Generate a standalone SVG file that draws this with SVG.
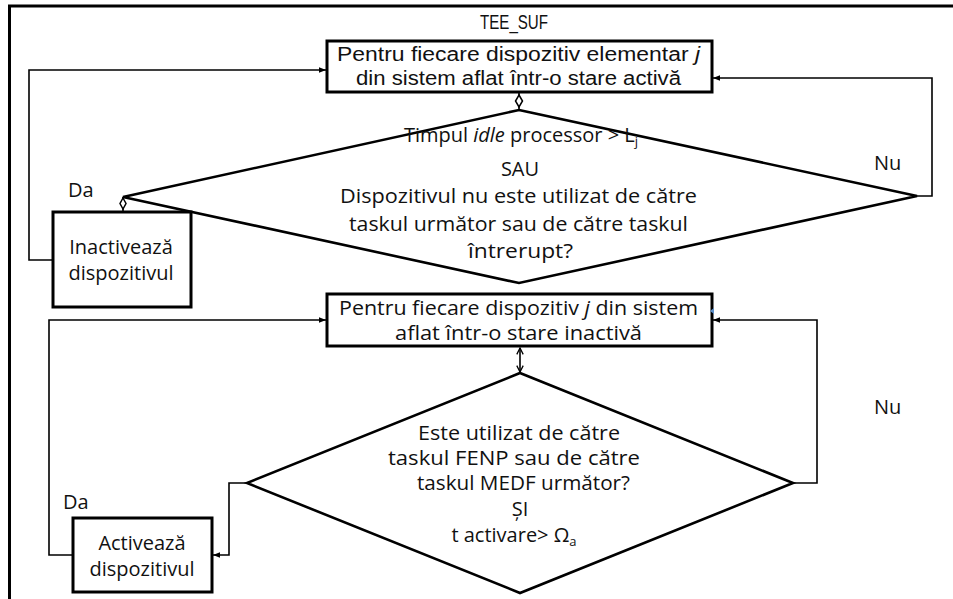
<svg xmlns="http://www.w3.org/2000/svg" width="953" height="599" viewBox="0 0 953 599">
  <style>
    .box { fill: #fff; stroke: #000; stroke-width: 3; }
    .dec { fill: none; stroke: #000; stroke-width: 2.6; stroke-linejoin: miter; }
    .con { fill: none; stroke: #000; stroke-width: 1.6; }
    .cal { font-family: "Liberation Sans", Arial, sans-serif; font-size: 19.5px; fill: #111; }
    .txt { font-family: "Open Sans", "DejaVu Sans", sans-serif; font-size: 20px; fill: #111; }
    .mid { text-anchor: middle; }
  </style>
  <defs>
    <marker id="arr" viewBox="0 0 10 10" refX="10" refY="5" markerWidth="7" markerHeight="7" markerUnits="userSpaceOnUse" orient="auto">
      <path d="M0,1 L10,5 L0,9 Z" fill="#000"/>
    </marker>
    <marker id="open" viewBox="0 0 10 10" refX="9" refY="5" markerWidth="8" markerHeight="8" markerUnits="userSpaceOnUse" orient="auto-start-reverse">
      <path d="M1,1 L9,5 L1,9" fill="none" stroke="#000" stroke-width="1.6"/>
    </marker>
  </defs>

  <rect width="953" height="599" fill="#fff"/>

  <!-- outer frame -->
  <path d="M953,6 H9.5 V599" fill="none" stroke="#000" stroke-width="3"/>

  <!-- title -->
  <text class="cal mid" x="514" y="29" font-size="17" textLength="68" lengthAdjust="spacingAndGlyphs">TEE_SUF</text>

  <!-- connectors -->
  <g id="connectors">
    <!-- box 1 to decision 1, with small diamond joint -->
    <line class="con" x1="519" y1="92" x2="519" y2="110"/>
    <path d="M519,95 L522.5,101 L519,107 L515.5,101 Z" fill="#fff" stroke="#000" stroke-width="1.5"/>
    <!-- decision 1: Nu loop back -->
    <path class="con" d="M917,196 H932 V78 H713" marker-end="url(#arr)"/>
    <!-- decision 1: Da to Inactiveaza -->
    <line class="con" x1="123" y1="197" x2="123" y2="212"/>
    <path d="M123,198 L126,203.5 L123,209 L120,203.5 Z" fill="#fff" stroke="#000" stroke-width="1.5"/>
    <!-- Inactiveaza loop back to box 1 -->
    <path class="con" d="M53,260 H29 V70 H326" marker-end="url(#arr)"/>
    <!-- box 2 to decision 2 (two-way) -->
    <line class="con" x1="520" y1="348" x2="520" y2="372" marker-start="url(#open)" marker-end="url(#open)"/>
    <!-- decision 2: Nu loop back -->
    <path class="con" d="M793,483 H817 V320 H713" marker-end="url(#arr)"/>
    <!-- decision 2: Da to Activeaza -->
    <path class="con" d="M247,483 H229 V555 H213" marker-end="url(#arr)"/>
    <!-- Activeaza loop back to box 2 -->
    <path class="con" d="M73,555 H49 V320 H326" marker-end="url(#arr)"/>
  </g>

  <!-- box 1 -->
  <g id="loop-active">
    <rect class="box" x="327" y="41" width="385" height="51"/>
    <text class="cal mid" x="518.5" y="61" textLength="363" lengthAdjust="spacingAndGlyphs">Pentru fiecare dispozitiv elementar <tspan font-style="italic">j</tspan></text>
    <text class="cal mid" x="518.5" y="85" textLength="325" lengthAdjust="spacingAndGlyphs">din sistem aflat într-o stare activă</text>
  </g>

  <!-- decision 1 -->
  <g id="decision-idle">
    <path class="dec" d="M519,110 L917,196 L519,283 L123,197 Z" fill="none"/>
    <text class="txt mid" x="521" y="142">Timpul <tspan font-style="italic">idle</tspan> processor &gt; L<tspan font-size="13" dy="4">j</tspan></text>
    <text class="txt mid" x="520" y="176">SAU</text>
    <text class="txt mid" x="518.5" y="203" textLength="357" lengthAdjust="spacingAndGlyphs">Dispozitivul nu este utilizat de către</text>
    <text class="txt mid" x="518.5" y="231" textLength="339" lengthAdjust="spacingAndGlyphs">taskul următor sau de către taskul</text>
    <text class="txt mid" x="520.5" y="258" textLength="105" lengthAdjust="spacingAndGlyphs">întrerupt?</text>
  </g>

  <!-- inactivate -->
  <g id="inactivate">
    <rect class="box" x="53" y="212" width="138" height="95"/>
    <text class="txt mid" x="121" y="254">Inactivează</text>
    <text class="txt mid" x="121" y="280">dispozitivul</text>
  </g>

  <!-- box 2 -->
  <g id="loop-inactive">
    <rect class="box" x="327" y="294" width="385" height="52"/>
    <text class="txt mid" x="518.5" y="315" textLength="359" lengthAdjust="spacingAndGlyphs">Pentru fiecare dispozitiv <tspan font-style="italic">j</tspan> din sistem</text>
    <text class="txt mid" x="518.5" y="340" textLength="247" lengthAdjust="spacingAndGlyphs">aflat într-o stare inactivă</text>
    <path d="M710,311 L714,308 L714,314 Z" fill="#5b8fc9"/>
  </g>

  <!-- decision 2 -->
  <g id="decision-use">
    <path class="dec" d="M520,373 L793,483 L520,593 L247,483 Z" fill="none"/>
    <text class="txt mid" x="519" y="440" textLength="202" lengthAdjust="spacingAndGlyphs">Este utilizat de către</text>
    <text class="txt mid" x="514" y="465" textLength="252" lengthAdjust="spacingAndGlyphs">taskul FENP sau de către</text>
    <text class="txt mid" x="523.5" y="490" textLength="213" lengthAdjust="spacingAndGlyphs">taskul MEDF următor?</text>
    <text class="txt mid" x="520" y="516">ȘI</text>
    <text class="txt mid" x="514" y="542">t activare&gt; Ω<tspan font-size="13" dy="4">a</tspan></text>
  </g>

  <!-- activate -->
  <g id="activate">
    <rect class="box" x="73" y="518" width="139" height="74"/>
    <text class="txt mid" x="142" y="550">Activează</text>
    <text class="txt mid" x="142" y="576">dispozitivul</text>
  </g>

  <!-- branch labels -->
  <g id="labels">
    <text class="txt" x="68" y="197">Da</text>
    <text class="txt" x="874" y="170">Nu</text>
    <text class="txt" x="63" y="509">Da</text>
    <text class="txt" x="874" y="414">Nu</text>
  </g>
</svg>
